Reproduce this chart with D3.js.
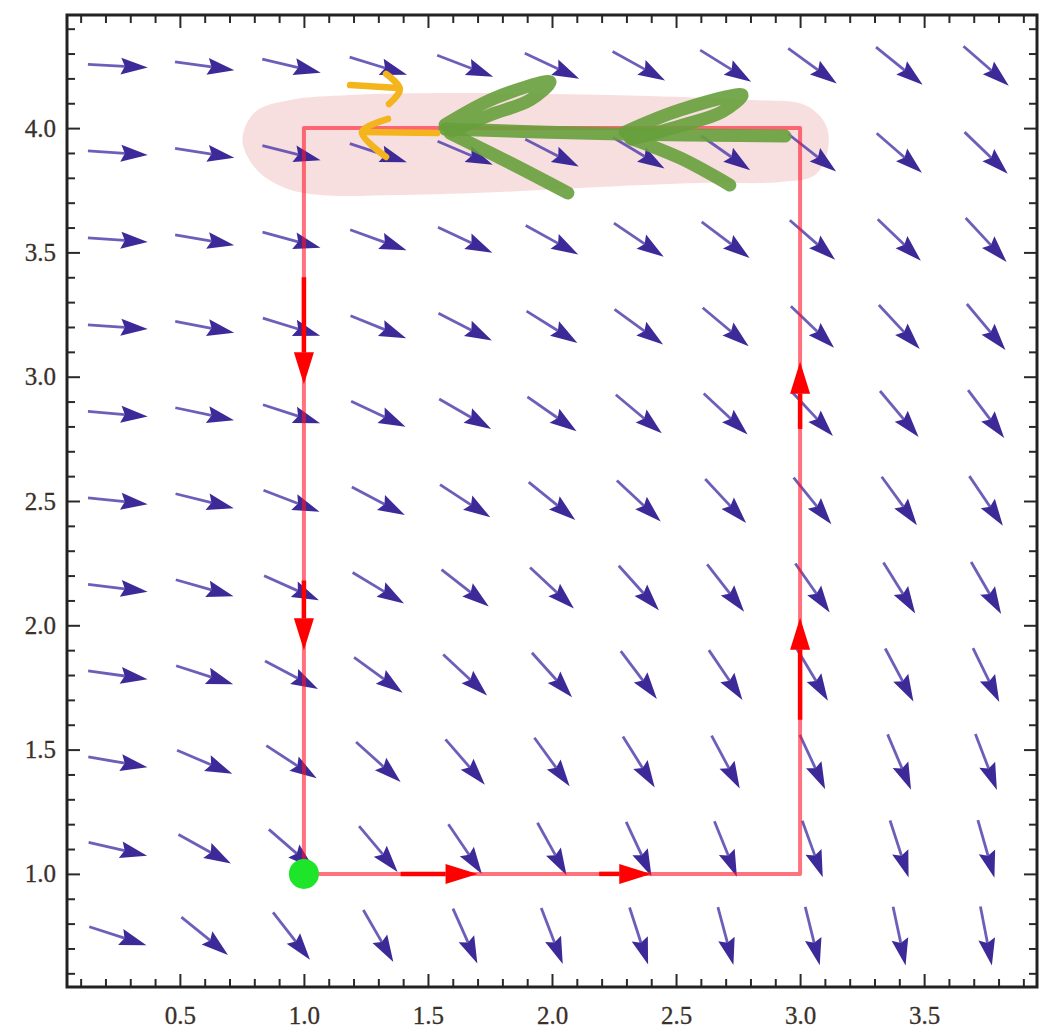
<!DOCTYPE html>
<html>
<head>
<meta charset="utf-8">
<script src="https://cdn.jsdelivr.net/npm/d3@7"></script>
<style>
  html, body { margin: 0; padding: 0; background: #fff; }
  .tick text { font-family: "Liberation Serif", "DejaVu Serif", serif; font-size: 25px; fill: #3a302a; stroke: #3a302a; stroke-width: 0.3; }
  .tick line { stroke: #2a2a2a; stroke-width: 2; }
  .domain { display: none; }
</style>
</head>
<body>
<div id="chart"></div>
<script>
// grid of the vector field
const gridX = [0.25, 0.6, 0.95, 1.3, 1.65, 2.0, 2.35, 2.7, 3.05, 3.4, 3.75];
const gridY = [4.25, 3.9, 3.55, 3.2, 2.85, 2.5, 2.15, 1.8, 1.45, 1.1, 0.75];
// arrow direction, degrees below horizontal, one row per gridY
const fieldAngles = [
  [3, 8, 13, 17, 21, 25, 29, 32, 36, 39, 41],
  [4, 9, 14, 18, 23, 27, 31, 35, 38, 41, 44],
  [4, 10, 15, 20, 25, 29, 34, 37, 41, 44, 47],
  [4, 11, 17, 22, 27, 32, 36, 40, 44, 47, 50],
  [5, 12, 18, 25, 30, 35, 40, 43, 47, 50, 53],
  [6, 14, 21, 28, 33, 39, 43, 47, 51, 54, 56],
  [7, 16, 24, 31, 38, 43, 48, 52, 55, 58, 60],
  [8, 18, 28, 36, 43, 48, 53, 56, 59, 62, 64],
  [10, 23, 33, 42, 49, 54, 58, 62, 65, 67, 69],
  [13, 29, 41, 50, 56, 61, 65, 68, 70, 72, 74],
  [18, 39, 52, 60, 66, 69, 72, 75, 76, 78, 79]
];

const xMajor = [0.5, 1.0, 1.5, 2.0, 2.5, 3.0, 3.5];
const yMajor = [1.0, 1.5, 2.0, 2.5, 3.0, 3.5, 4.0];

// closed path and its direction arrows
const pathCorners = [[1, 1], [3, 1], [3, 4], [1, 4], [1, 1]];
const pathArrows = [
  [[1, 3.4], [1, 2.97]],
  [[1, 2.18], [1, 1.9]],
  [[1.39, 1], [1.7, 1]],
  [[2.19, 1], [2.4, 1]],
  [[3, 1.62], [3, 2.03]],
  [[3, 2.79], [3, 3.06]]
];
const startPoint = [1, 1];

// hand drawn marks on top
const highlightBlob = [
  [0.752, 3.952], [0.803, 4.065], [0.944, 4.113], [1.186, 4.133], [1.589, 4.141],
  [1.992, 4.137], [2.395, 4.129], [2.798, 4.113], [3.020, 4.093], [3.104, 4.013],
  [3.112, 3.912], [3.060, 3.811], [2.919, 3.783], [2.596, 3.779], [2.193, 3.763],
  [1.790, 3.743], [1.387, 3.731], [1.065, 3.731], [0.924, 3.759], [0.810, 3.832]
];
const greenStrokes = [
  [[2.939, 3.968], [2.274, 3.976], [1.569, 3.996]],
  [[1.569, 4.013], [1.770, 4.121], [1.992, 4.186], [1.911, 4.113], [1.750, 4.053], [1.597, 3.988]],
  [[1.589, 3.980], [1.831, 3.860], [2.064, 3.739]],
  [[2.294, 3.984], [2.516, 4.073], [2.766, 4.133], [2.685, 4.065], [2.516, 4.009], [2.322, 3.956]],
  [[2.314, 3.960], [2.516, 3.880], [2.717, 3.771]]
];
const orangeStrokes = [
  [[1.186, 4.173], [1.379, 4.161]],
  [[1.331, 4.218], [1.387, 4.157], [1.343, 4.097]],
  [[1.536, 3.980], [1.234, 3.984]],
  [[1.339, 4.037], [1.234, 3.984], [1.331, 3.884]]
];

const width = 1040;
const height = 1034;
const frameLeft = 67, frameRight = 1037, frameTop = 15, frameBottom = 987;

const x = d3.scaleLinear().domain([0.045, 3.955]).range([frameLeft, frameRight]);
const y = d3.scaleLinear().domain([0.545, 4.455]).range([frameBottom, frameTop]);

const svg = d3.select("#chart")
  .append("svg")
  .attr("width", width)
  .attr("height", height);

svg.append("rect").attr("width", width).attr("height", height).attr("fill", "#fff");

// highlighter
svg.append("path")
  .attr("d", d3.line().x(d => x(d[0])).y(d => y(d[1])).curve(d3.curveCatmullRomClosed)(highlightBlob))
  .attr("fill", "#f8dfdf");

// vector field
const arrowLen = 60, headLen = 27, headHalf = 8.5;
const field = svg.append("g");
gridY.forEach((gy, j) => {
  gridX.forEach((gx, i) => {
    const a = fieldAngles[j][i] * Math.PI / 180;
    const dx = Math.cos(a), dy = Math.sin(a);
    const cx = x(gx), cy = y(gy);
    const x0 = cx - dx * arrowLen / 2, y0 = cy - dy * arrowLen / 2;
    const x1 = cx + dx * arrowLen / 2, y1 = cy + dy * arrowLen / 2;
    const bx = x1 - dx * headLen, by = y1 - dy * headLen;
    field.append("line")
      .attr("x1", x0).attr("y1", y0).attr("x2", bx + dx * 4).attr("y2", by + dy * 4)
      .attr("stroke", "#5443ad").attr("stroke-width", 2.8).attr("stroke-opacity", 0.85);
    field.append("path")
      .attr("d", `M${x1},${y1}L${bx - dy * headHalf},${by + dx * headHalf}L${bx + dx * 4},${by + dy * 4}L${bx + dy * headHalf},${by - dx * headHalf}Z`)
      .attr("fill", "#3d2a98");
  });
});

// closed path
svg.append("path")
  .attr("d", d3.line().x(d => x(d[0])).y(d => y(d[1]))(pathCorners))
  .attr("fill", "none")
  .attr("stroke", "rgba(255,20,40,0.6)")
  .attr("stroke-width", 4)
  .attr("stroke-linejoin", "round");

const redHead = 32, redHalf = 10;
pathArrows.forEach(([p, q]) => {
  const x0 = x(p[0]), y0 = y(p[1]), x1 = x(q[0]), y1 = y(q[1]);
  const len = Math.hypot(x1 - x0, y1 - y0);
  const dx = (x1 - x0) / len, dy = (y1 - y0) / len;
  const bx = x1 - dx * redHead, by = y1 - dy * redHead;
  svg.append("line")
    .attr("x1", x0).attr("y1", y0).attr("x2", bx).attr("y2", by)
    .attr("stroke", "#ff0000").attr("stroke-width", 4.5);
  svg.append("path")
    .attr("d", `M${x1},${y1}L${bx - dy * redHalf},${by + dx * redHalf}L${bx + dy * redHalf},${by - dx * redHalf}Z`)
    .attr("fill", "#ff0000");
});

svg.append("circle")
  .attr("cx", x(startPoint[0]))
  .attr("cy", y(startPoint[1]))
  .attr("r", 15)
  .attr("fill", "#1ee52a");

// frame with ticks on all four sides
const xMinor = d3.range(1, 40).map(d => d / 10).filter(d => !xMajor.some(m => Math.abs(m - d) < 1e-9));
const yMinor = d3.range(6, 45).map(d => d / 10).filter(d => !yMajor.some(m => Math.abs(m - d) < 1e-9));

function addAxis(axis, tx, ty) {
  return svg.append("g").attr("transform", `translate(${tx},${ty})`).call(axis);
}
addAxis(d3.axisBottom(x).tickValues(xMinor).tickSize(-8).tickFormat(""), 0, frameBottom);
addAxis(d3.axisBottom(x).tickValues(xMajor).tickSize(-13).tickPadding(19).tickFormat(d3.format(".1f")), 0, frameBottom);
addAxis(d3.axisTop(x).tickValues(xMinor).tickSize(-8).tickFormat(""), 0, frameTop);
addAxis(d3.axisTop(x).tickValues(xMajor).tickSize(-13).tickFormat(""), 0, frameTop);
addAxis(d3.axisLeft(y).tickValues(yMinor).tickSize(-8).tickFormat(""), frameLeft, 0);
addAxis(d3.axisLeft(y).tickValues(yMajor).tickSize(-13).tickPadding(11).tickFormat(d3.format(".1f")), frameLeft, 0);
addAxis(d3.axisRight(y).tickValues(yMinor).tickSize(-8).tickFormat(""), frameRight, 0);
addAxis(d3.axisRight(y).tickValues(yMajor).tickSize(-13).tickFormat(""), frameRight, 0);

svg.append("rect")
  .attr("x", frameLeft).attr("y", frameTop)
  .attr("width", frameRight - frameLeft).attr("height", frameBottom - frameTop)
  .attr("fill", "none").attr("stroke", "#222").attr("stroke-width", 3);

// annotations
const ink = d3.line().x(d => x(d[0])).y(d => y(d[1])).curve(d3.curveCatmullRom);
greenStrokes.forEach(s => {
  svg.append("path")
    .attr("d", ink(s))
    .attr("fill", "none")
    .attr("stroke", "#67a03c")
    .attr("stroke-opacity", 0.9)
    .attr("stroke-width", 13)
    .attr("stroke-linecap", "round")
    .attr("stroke-linejoin", "round");
});
orangeStrokes.forEach(s => {
  svg.append("path")
    .attr("d", ink(s))
    .attr("fill", "none")
    .attr("stroke", "#f4b41c")
    .attr("stroke-width", 6.5)
    .attr("stroke-linecap", "round")
    .attr("stroke-linejoin", "round");
});
</script>
</body>
</html>
